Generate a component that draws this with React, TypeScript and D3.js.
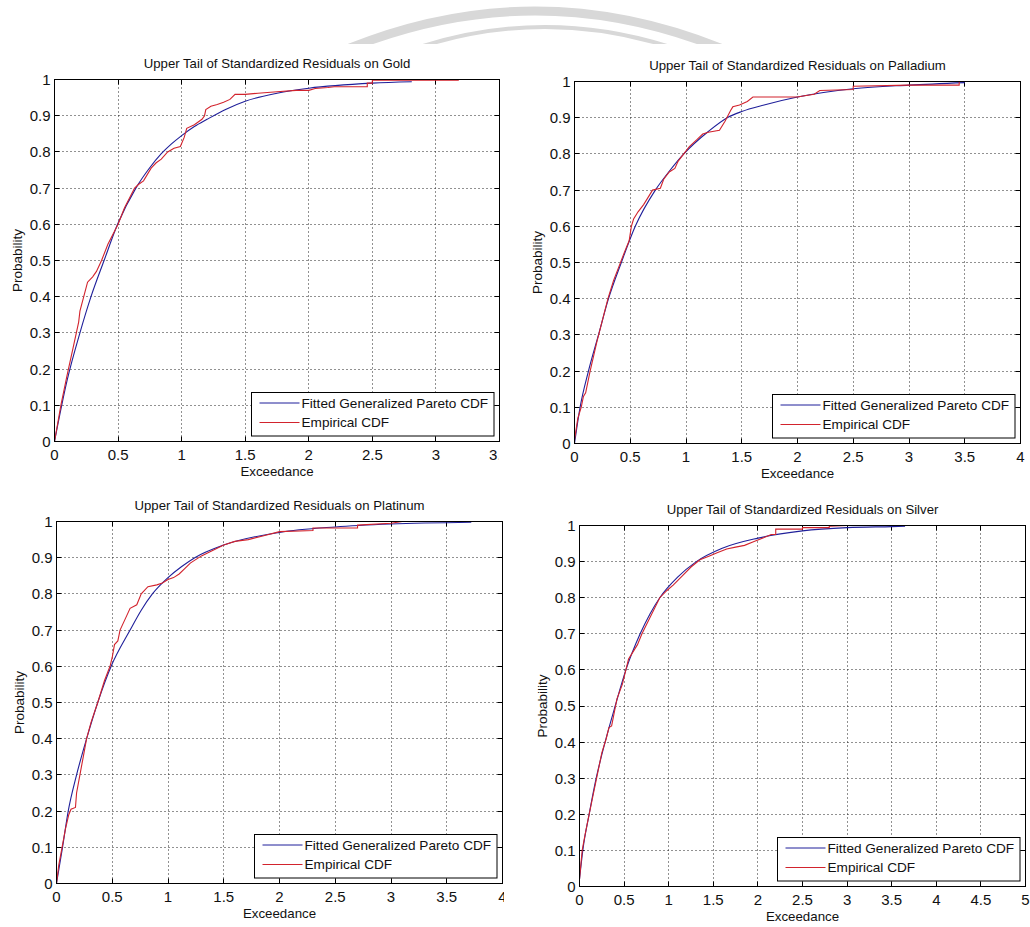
import React, { useEffect, useRef } from 'react';
import * as d3 from 'd3';

type Pt = [number, number];

// probability axis ticks, shared by all four panels
const probTicks = [0, 0.1, 0.2, 0.3, 0.4, 0.5, 0.6, 0.7, 0.8, 0.9, 1];
const ticksTo35 = [0, 0.5, 1, 1.5, 2, 2.5, 3, 3.5];
const ticksTo4 = [0, 0.5, 1, 1.5, 2, 2.5, 3, 3.5, 4];
const ticksTo5 = [0, 0.5, 1, 1.5, 2, 2.5, 3, 3.5, 4, 4.5, 5];

const metals = ['Gold', 'Palladium', 'Platinum', 'Silver'];
const legendLabels = ['Fitted Generalized Pareto CDF', 'Empirical CDF'];

// fitted GPD curves (exceedance, probability)
const goldFitted: Pt[] = [
	[0, 0], [0.1, 0.17], [0.2, 0.3], [0.287, 0.4], [0.39, 0.5], [0.496, 0.6], [0.64, 0.7],
	[0.74, 0.752], [0.84, 0.795], [0.92, 0.822], [1.0, 0.845], [1.1, 0.87], [1.2, 0.89],
	[1.35, 0.918], [1.5, 0.94], [1.75, 0.962], [2.0, 0.976], [2.5, 0.99], [2.81, 0.994],
];
const palladiumFitted: Pt[] = [
	[0, 0], [0.05, 0.1], [0.125, 0.2], [0.215, 0.3], [0.305, 0.4], [0.42, 0.5], [0.545, 0.6],
	[0.725, 0.7], [0.85, 0.752], [0.98, 0.8], [1.2, 0.862], [1.37, 0.9], [1.5, 0.917],
	[1.7, 0.935], [2.0, 0.957], [2.5, 0.98], [3.0, 0.99], [3.5, 0.997],
];
const platinumFitted: Pt[] = [
	[0, 0], [0.054, 0.1], [0.105, 0.2], [0.18, 0.3], [0.27, 0.4], [0.37, 0.5], [0.49, 0.6],
	[0.66, 0.7], [0.76, 0.755], [0.86, 0.8], [1.0, 0.845], [1.12, 0.875], [1.24, 0.9],
	[1.5, 0.935], [2.0, 0.97], [2.5, 0.985], [3.0, 0.993], [3.72, 0.998],
];
const silverFitted: Pt[] = [
	[0, 0.02], [0.037, 0.1], [0.108, 0.2], [0.187, 0.3], [0.287, 0.4], [0.4, 0.5], [0.52, 0.6],
	[0.68, 0.7], [0.79, 0.755], [0.9, 0.8], [1.1, 0.857], [1.31, 0.9], [1.6, 0.937],
	[2.0, 0.965], [2.5, 0.985], [3.0, 0.994], [3.5, 0.997], [3.65, 0.998],
];

// empirical CDFs traced as polylines, repeated x marks a visible jump
const goldEmpirical: Pt[] = [
	[0, 0], [0.05, 0.1], [0.1, 0.185], [0.15, 0.265], [0.19, 0.33], [0.2, 0.36], [0.23, 0.4],
	[0.26, 0.44], [0.3, 0.455], [0.33, 0.47], [0.37, 0.5], [0.42, 0.545], [0.5, 0.6], [0.55, 0.645],
	[0.63, 0.7], [0.66, 0.71], [0.7, 0.72], [0.76, 0.755], [0.8, 0.77], [0.84, 0.78], [0.89, 0.8],
	[0.94, 0.81], [0.99, 0.815], [1.02, 0.84], [1.04, 0.865], [1.1, 0.875], [1.16, 0.89],
	[1.18, 0.9], [1.19, 0.917], [1.23, 0.926], [1.28, 0.931], [1.33, 0.937], [1.38, 0.945],
	[1.42, 0.959], [1.5, 0.959], [1.6, 0.962], [1.75, 0.966], [1.9, 0.97], [2.0, 0.97],
	[2.05, 0.975], [2.15, 0.978], [2.2, 0.98], [2.46, 0.98], [2.46, 0.99], [2.5, 0.99],
	[2.5, 0.998], [3.18, 0.998],
];
const palladiumEmpirical: Pt[] = [
	[0, 0.01], [0.03, 0.07], [0.06, 0.1], [0.08, 0.13], [0.1, 0.14], [0.14, 0.2], [0.2, 0.28],
	[0.25, 0.34], [0.3, 0.4], [0.35, 0.45], [0.4, 0.49], [0.45, 0.53], [0.49, 0.56], [0.51, 0.6],
	[0.53, 0.62], [0.57, 0.64], [0.62, 0.66], [0.66, 0.68], [0.7, 0.7], [0.77, 0.705], [0.8, 0.73],
	[0.85, 0.75], [0.9, 0.76], [0.93, 0.78], [0.98, 0.8], [1.03, 0.82], [1.1, 0.84], [1.15, 0.855],
	[1.2, 0.86], [1.3, 0.865], [1.35, 0.89], [1.4, 0.92], [1.42, 0.93], [1.48, 0.935],
	[1.55, 0.945], [1.6, 0.957], [2.0, 0.957], [2.05, 0.96], [2.15, 0.965], [2.2, 0.975],
	[2.5, 0.978], [2.5, 0.987], [3.0, 0.99], [3.45, 0.99], [3.45, 1.0], [3.91, 1.0],
];
const platinumEmpirical: Pt[] = [
	[0, 0], [0.02, 0.05], [0.05, 0.1], [0.08, 0.15], [0.11, 0.19], [0.13, 0.205], [0.17, 0.21],
	[0.18, 0.25], [0.21, 0.3], [0.24, 0.35], [0.27, 0.4], [0.31, 0.445], [0.37, 0.5], [0.43, 0.56],
	[0.48, 0.6], [0.5, 0.625], [0.52, 0.66], [0.55, 0.67], [0.57, 0.7], [0.63, 0.74], [0.66, 0.76],
	[0.72, 0.77], [0.76, 0.8], [0.82, 0.82], [0.9, 0.825], [0.95, 0.83], [1.0, 0.84], [1.05, 0.845],
	[1.1, 0.855], [1.15, 0.87], [1.2, 0.885], [1.3, 0.905], [1.4, 0.92], [1.5, 0.935], [1.6, 0.945],
	[1.72, 0.95], [1.85, 0.96], [2.0, 0.972], [2.3, 0.975], [2.3, 0.982], [2.7, 0.982], [2.7, 0.99],
	[3.0, 0.995], [3.1, 1.0], [3.72, 1.0],
];
const silverEmpirical: Pt[] = [
	[0, 0.02], [0.03, 0.1], [0.06, 0.14], [0.1, 0.19], [0.15, 0.25], [0.2, 0.31], [0.25, 0.37],
	[0.3, 0.41], [0.33, 0.44], [0.36, 0.445], [0.38, 0.47], [0.42, 0.52], [0.48, 0.56], [0.52, 0.6],
	[0.55, 0.63], [0.6, 0.65], [0.65, 0.67], [0.7, 0.7], [0.8, 0.75], [0.9, 0.8], [0.98, 0.82],
	[1.05, 0.835], [1.15, 0.86], [1.25, 0.885], [1.35, 0.905], [1.45, 0.915], [1.55, 0.925],
	[1.65, 0.935], [1.75, 0.94], [1.85, 0.945], [1.95, 0.955], [2.05, 0.965], [2.15, 0.975],
	[2.2, 0.975], [2.2, 0.99], [2.5, 0.99], [2.5, 0.994], [2.8, 0.994], [2.8, 0.998], [3.0, 1.0],
	[4.68, 1.0],
];

const fittedSeries = [goldFitted, palladiumFitted, platinumFitted, silverFitted];
const empiricalSeries = [goldEmpirical, palladiumEmpirical, platinumEmpirical, silverEmpirical];
const xTickSets = [ticksTo35, ticksTo4, ticksTo4, ticksTo5];

// layout of the four axes boxes (pixels); labelClip cuts tick text at the sub-image edge
const layout = [
	{ left: 54.5, right: 499.5, top: 79.5, bottom: 441.5, labelClip: 498.5 },
	{ left: 574.5, right: 1020.5, top: 81.5, bottom: 443.5, labelClip: 0 },
	{ left: 56.5, right: 502.5, top: 521.5, bottom: 883.5, labelClip: 504 },
	{ left: 579.5, right: 1025.5, top: 525.5, bottom: 886.5, labelClip: 0 },
];

const FONT = '"Liberation Sans", Arial, Helvetica, sans-serif';
const BLUE = '#1f1f9a';
const RED = '#d2232d';

export default function App() {
	const svgRef = useRef<SVGSVGElement>(null);

	useEffect(() => {
		const svg = d3.select(svgRef.current);
		svg.selectAll('.panel').remove();
		const defs = svg.select('defs');
		defs.selectAll('.pclip').remove();

		metals.forEach((metal, i) => {
			const box = layout[i];
			const xTicks = xTickSets[i];
			const xMax = xTicks[xTicks.length - 1];
			const x = d3.scaleLinear().domain([0, xMax]).range([box.left, box.right]);
			const y = d3.scaleLinear().domain([0, 1]).range([box.bottom, box.top]);
			const crisp = (v: number) => Math.round(v - 0.5) + 0.5;

			if (box.labelClip) {
				defs.append('clipPath').attr('class', 'pclip').attr('id', `pclip${i}`)
					.append('rect').attr('x', 0).attr('y', 0).attr('width', box.labelClip).attr('height', 927);
			}
			const g = svg.append('g').attr('class', 'panel').style('font-family', FONT);

			g.append('rect').attr('x', box.left).attr('y', box.top)
				.attr('width', box.right - box.left).attr('height', box.bottom - box.top).attr('fill', '#fff');

			// dotted grid
			g.selectAll('.vgrid').data(xTicks.filter(t => t > 0 && t < xMax)).enter().append('line')
				.attr('class', 'vgrid')
				.attr('x1', d => crisp(x(d))).attr('x2', d => crisp(x(d)))
				.attr('y1', box.top).attr('y2', box.bottom)
				.attr('stroke', '#222').attr('stroke-dasharray', '1,3');
			g.selectAll('.hgrid').data(probTicks.filter(t => t > 0 && t < 1)).enter().append('line')
				.attr('class', 'hgrid')
				.attr('y1', d => crisp(y(d))).attr('y2', d => crisp(y(d)))
				.attr('x1', box.left).attr('x2', box.right)
				.attr('stroke', '#222').attr('stroke-dasharray', '1,3');

			// inward tick marks on all four sides
			const tl = 5;
			xTicks.forEach(t => {
				const xx = crisp(x(t));
				g.append('line').attr('x1', xx).attr('x2', xx).attr('y1', box.bottom).attr('y2', box.bottom - tl).attr('stroke', '#000');
				g.append('line').attr('x1', xx).attr('x2', xx).attr('y1', box.top).attr('y2', box.top + tl).attr('stroke', '#000');
			});
			probTicks.forEach(t => {
				const yy = crisp(y(t));
				g.append('line').attr('y1', yy).attr('y2', yy).attr('x1', box.left).attr('x2', box.left + tl).attr('stroke', '#000');
				g.append('line').attr('y1', yy).attr('y2', yy).attr('x1', box.right).attr('x2', box.right - tl).attr('stroke', '#000');
			});

			// curves: fitted first, empirical drawn over it
			const fittedLine = d3.line<Pt>().x(d => x(d[0])).y(d => y(d[1])).curve(d3.curveMonotoneX);
			const traceLine = d3.line<Pt>().x(d => x(d[0])).y(d => y(d[1]));
			g.append('path').attr('d', fittedLine(fittedSeries[i]))
				.attr('fill', 'none').attr('stroke', BLUE).attr('stroke-width', 1.1);
			g.append('path').attr('d', traceLine(empiricalSeries[i]))
				.attr('fill', 'none').attr('stroke', RED).attr('stroke-width', 1.1)
				.attr('stroke-linejoin', 'miter');

			// box
			g.append('rect').attr('x', box.left).attr('y', box.top)
				.attr('width', box.right - box.left).attr('height', box.bottom - box.top)
				.attr('fill', 'none').attr('stroke', '#000');

			// tick labels
			const labels = g.append('g').attr('clip-path', box.labelClip ? `url(#pclip${i})` : null);
			labels.selectAll('.xlab').data(xTicks).enter().append('text')
				.attr('x', d => x(d)).attr('y', box.bottom + 18)
				.attr('text-anchor', 'middle').attr('font-size', 15).attr('fill', '#111')
				.text(d => String(d));
			labels.selectAll('.ylab').data(probTicks).enter().append('text')
				.attr('x', box.left - 4).attr('y', d => y(d)).attr('dy', '0.36em')
				.attr('text-anchor', 'end').attr('font-size', 15).attr('fill', '#111')
				.text(d => String(d));

			const midX = (box.left + box.right) / 2;
			g.append('text').attr('x', midX).attr('y', box.top - 11.5)
				.attr('text-anchor', 'middle').attr('font-size', 13.2).attr('fill', '#111')
				.text(`Upper Tail of Standardized Residuals on ${metal}`);
			g.append('text').attr('x', midX).attr('y', box.bottom + 34.5)
				.attr('text-anchor', 'middle').attr('font-size', 13.3).attr('fill', '#111')
				.text('Exceedance');
			g.append('text')
				.attr('transform', `translate(${box.left - 37},${(box.top + box.bottom) / 2}) rotate(-90)`)
				.attr('dy', '0.36em').attr('text-anchor', 'middle').attr('font-size', 13.5).attr('fill', '#111')
				.text('Probability');

			// legend
			const lw = 242.5;
			const lh = 43.5;
			const lx = box.right - 6 - lw;
			const ly = box.bottom - 6 - lh;
			const leg = g.append('g').attr('transform', `translate(${Math.round(lx) + 0.5},${Math.round(ly) + 0.5})`);
			leg.append('rect').attr('width', lw).attr('height', lh).attr('fill', '#fff').attr('stroke', '#000');
			[BLUE, RED].forEach((c, k) => {
				const yy = k === 0 ? 10.5 : 30;
				leg.append('line').attr('x1', 8).attr('x2', 48).attr('y1', yy).attr('y2', yy).attr('stroke', c);
				leg.append('text').attr('x', 50).attr('y', yy).attr('dy', '0.36em')
					.attr('font-size', 13.6).attr('fill', '#111').text(legendLabels[k]);
			});
		});
	}, []);

	return (
		<svg
			ref={svgRef}
			width={1030}
			height={927}
			style={{ position: 'absolute', left: 0, top: 0, display: 'block', background: '#fff' }}
		>
			<defs>
				<clipPath id="wmclip">
					<rect x={0} y={0} width={1030} height={44} />
				</clipPath>
			</defs>
			<rect x={0} y={0} width={1030} height={927} fill="#fff" />
			{/* faint watermark arcs at the top */}
			<g clipPath="url(#wmclip)" fill="none" stroke="#d8d8d8">
				<path d="M 340 52 Q 535 -30 730 52" strokeWidth={9} />
				<path d="M 405 52 Q 545 2 685 52" strokeWidth={4} />
			</g>
		</svg>
	);
}
